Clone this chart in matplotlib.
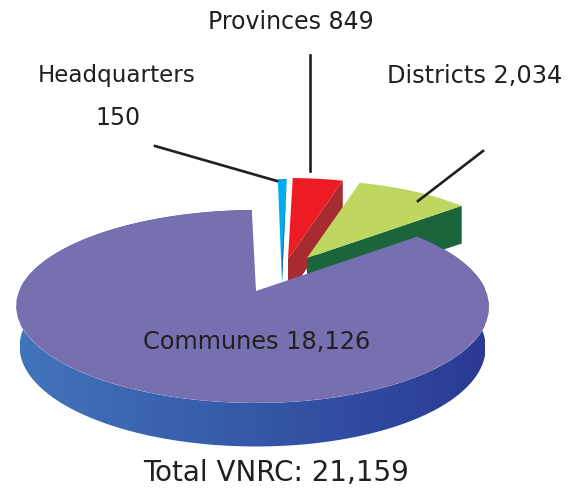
import numpy as np
import matplotlib
matplotlib.use('Agg')
from matplotlib import pyplot as plt
from matplotlib.colors import LinearSegmentedColormap
from matplotlib.patches import Polygon

categories = ['Communes', 'Districts', 'Provinces', 'Headquarters']
values = [18126, 2034, 849, 150]
top_colors = ['#766fb0', '#bdd761', '#ed1c24', '#00aeef']
wall_colors = [None, '#1a6539', '#a62c32', '#0f6ca8']

# apex of each slice on the page, the slices are pulled apart
apex = [(256, 291), (307, 258), (288, 259), (282, 260)]
radius = [1, 0.96, 1, 1]

TEXT = '#231f20'
plt.rcParams['font.family'] = ['DejaVu Sans']


def ring(angle, x0, y0, r=1):
    """perspective view of the pie rim, angle in degrees"""
    t = np.radians(angle)
    X, Y = np.cos(t), np.sin(t)
    w = 1 + 0.1606 * Y
    return x0 + r * (233.5 * X / w - 3.5 * X ** 2), y0 - r * 94 * Y / w


def depth(angle):
    return 40 - 3.5 * np.sin(np.radians(angle))


def lower(angle, x0, y0):
    x, y = ring(angle, x0, y0)
    return x0 + (x - x0) * 0.985, y + depth(angle)


fig = plt.figure(figsize=(5.73, 4.91), dpi=100)
ax = fig.add_axes([0, 0, 1, 1])

# slice angles come from the values, going counter clockwise from the top
total = sum(values)
sweeps = [v / total * 360 for v in values]
start = 91.2
spans = []
for sweep in sweeps:
    spans.append((start, start + sweep))
    start += sweep

# back slices first, Communes goes over them
for i in [3, 2, 1, 0]:
    a0, a1 = spans[i]
    x0, y0 = apex[i]
    arc = np.linspace(a0, a1, 60)
    ax_, ay_ = ring(arc, x0, y0, radius[i])

    if i == 0:
        # rim with a left to right gradient
        steps = np.linspace(a0, a1, 400)
        ux, uy = ring(steps, x0, y0)
        lx, ly = lower(steps, x0, y0)
        rim = Polygon(np.c_[np.r_[ux, lx[::-1]], np.r_[uy, ly[::-1]]], transform=ax.transData,
                      fc='none', lw=0)
        ax.add_patch(rim)
        cmap = LinearSegmentedColormap.from_list('rim', ['#4274ba', '#3558a8', '#2b3a94'])
        grad = ax.imshow(np.linspace(0, 1, 256)[None, :], cmap=cmap, aspect='auto',
                         extent=[20, 485, 460, 200], zorder=2, interpolation='bilinear')
        grad.set_clip_path(rim)
    elif i == 3:
        # the thin slice only shows a sliver of its side
        ox, oy = ring(a0, x0, y0)
        ax.fill(np.r_[x0, ax_], np.r_[y0 + 23, ay_], color=top_colors[i], lw=0, zorder=1)
        ax.fill([ox, x0, x0], [oy, y0 + 23, y0 - 3], color=wall_colors[i], lw=0, zorder=1.1)
        continue
    else:
        # cut side along the edge at the start of the slice
        ox, oy = ring(a0, x0, y0, radius[i])
        ax.fill([x0, ox, ox, x0], [y0, oy, oy + depth(a0), y0 + depth(90)],
                color=wall_colors[i], lw=0, zorder=1 + (3 - i) * 0.2)

    ax.fill(np.r_[x0, ax_], np.r_[y0, ay_], color=top_colors[i], lw=0,
            zorder=3 if i == 0 else 1.1 + (3 - i) * 0.2)

ax.set_xlim(0, 573)
ax.set_ylim(491, 0)
ax.axis('off')

# leader lines
ax.plot([310, 310], [55, 171], color=TEXT, lw=1.9, zorder=4)
ax.plot([155, 277], [146, 181], color=TEXT, lw=1.9, zorder=4)
ax.plot([483, 418], [151, 201], color=TEXT, lw=1.9, zorder=4)

# labels
ax.text(291, 22, f'{categories[2]} {values[2]}', ha='center', va='center', fontsize=17, color=TEXT, zorder=5)
ax.text(117, 75, categories[3], ha='center', va='center', fontsize=16.6, color=TEXT, zorder=5)
ax.text(118, 118, f'{values[3]}', ha='center', va='center', fontsize=17, color=TEXT, zorder=5)
ax.text(475, 76, f'{categories[1]} {values[1]:,}', ha='center', va='center', fontsize=17.3, color=TEXT, zorder=5)
ax.text(257, 342, f'{categories[0]} {values[0]:,}', ha='center', va='center', fontsize=17.3, color=TEXT, zorder=5)
ax.text(276, 473, f'Total VNRC: {total:,}', ha='center', va='center', fontsize=20, color=TEXT, zorder=5)

fig.savefig('out.png', dpi=100)
